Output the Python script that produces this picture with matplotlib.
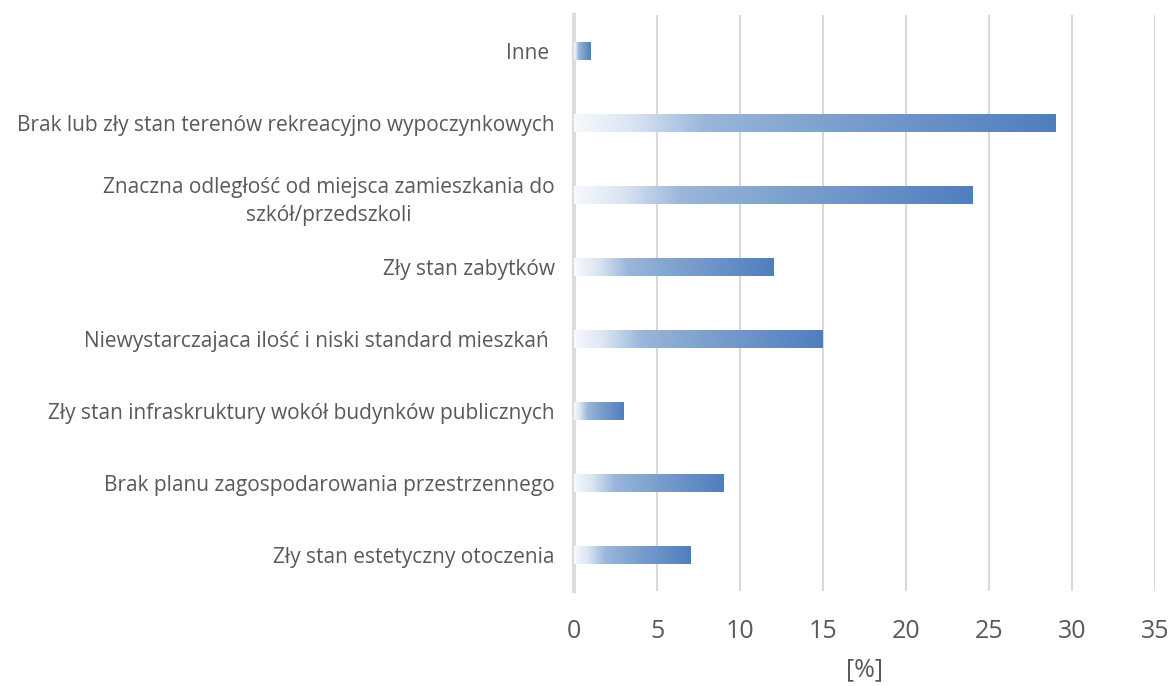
import matplotlib
matplotlib.use("Agg")
import matplotlib.pyplot as plt
import numpy as np
from matplotlib.colors import LinearSegmentedColormap

categories = [
    "Inne ",
    "Brak lub zły stan terenów rekreacyjno wypoczynkowych",
    "Znaczna odległość od miejsca zamieszkania do\nszkół/przedszkoli",
    "Zły stan zabytków",
    "Niewystarczajaca ilość i niski standard mieszkań ",
    "Zły stan infraskruktury wokół budynków publicznych",
    "Brak planu zagospodarowania przestrzennego",
    "Zły stan estetyczny otoczenia",
]
values = [1, 29, 24, 12, 15, 3, 9, 7]
xticks = [0, 5, 10, 15, 20, 25, 30, 35]

plt.rcParams['font.family'] = ['Open Sans', 'DejaVu Sans']

fig = plt.figure(figsize=(11.72, 6.86), dpi=100)
ax = fig.add_axes([574/1172, 1-591/686, (1155-574)/1172, (591-15)/686])

ypos = np.arange(len(categories))
bars = ax.barh(ypos, values, height=0.25, facecolor='none', edgecolor='none', zorder=3)

cmap = LinearSegmentedColormap.from_list('grad', [
    (0.0, '#f7f9fd'),
    (0.12, '#dbe5f2'),
    (0.27, '#9ab6dc'),
    (0.5, '#80a3d0'),
    (1.0, '#4e7fbd'),
])
grad = np.linspace(0, 1, 256).reshape(1, -1)
for p in bars.patches:
    x0, y0 = p.get_x(), p.get_y()
    w, h = p.get_width(), p.get_height()
    ax.imshow(grad, cmap=cmap, aspect='auto', extent=[x0, x0 + w, y0 + h, y0],
              zorder=3, interpolation='bilinear')

ax.set_xlim(0, 35)
ax.set_ylim(len(categories) - 0.5, -0.5)
ax.set_yticks(ypos)
ax.set_yticklabels(categories, fontsize=15, color='#595959', multialignment='center',
                   linespacing=1.45)
ax.set_xticks(xticks)
ax.set_xticklabels([str(t) for t in xticks], fontsize=18, color='#595959')
ax.tick_params(axis='both', length=0)
ax.tick_params(axis='y', pad=14)
ax.tick_params(axis='x', pad=20)
ax.set_xlabel('[%]', fontsize=18, color='#595959', labelpad=10)

ax.grid(axis='x', color='#d9d9d9', linewidth=1.5, zorder=0)
ax.set_axisbelow(True)
for s in ['top', 'right', 'bottom']:
    ax.spines[s].set_visible(False)
ax.spines['left'].set_color('#dcdcdc')
ax.spines['left'].set_linewidth(3)

fig.savefig('out.png', dpi=100, facecolor='white')
